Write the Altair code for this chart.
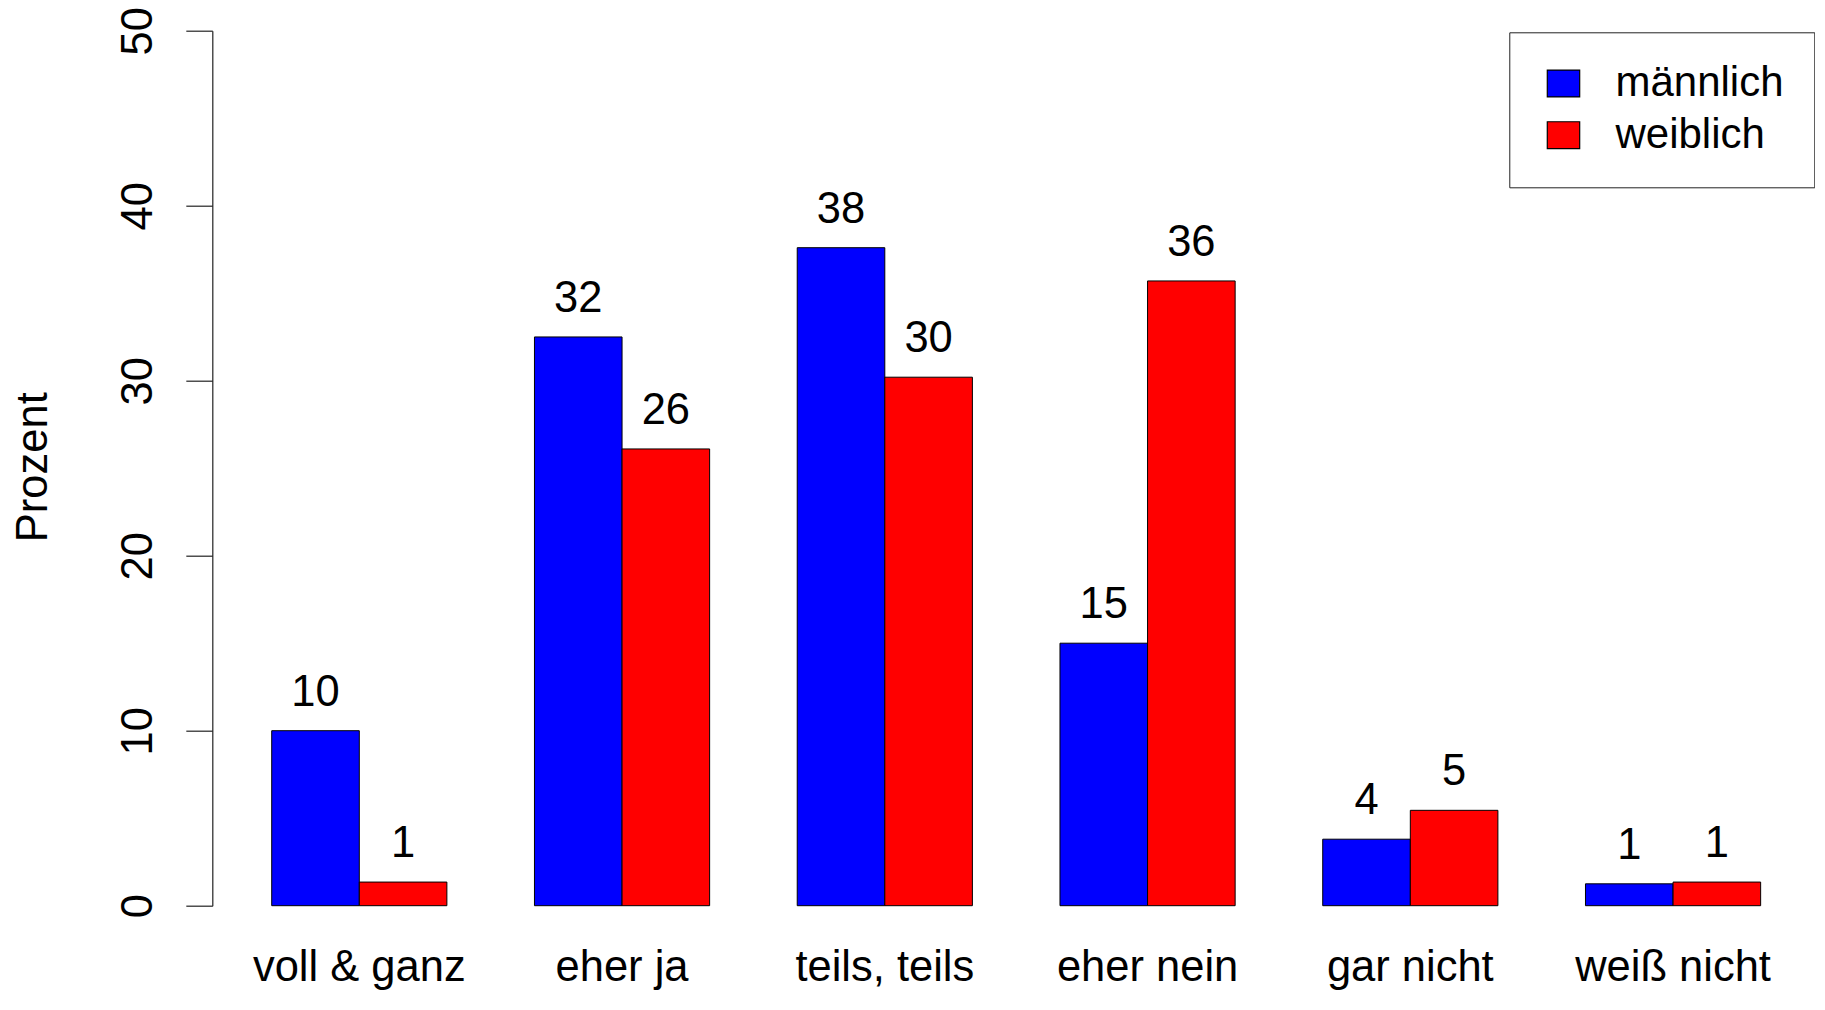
import altair as alt
import pandas as pd

categories = ["voll & ganz", "eher ja", "teils, teils", "eher nein", "gar nicht", "weiß nicht"]
groups = ["männlich", "weiblich"]
maennlich = [10.0, 32.5, 37.6, 15.0, 3.8, 1.25]
weiblich = [1.35, 26.1, 30.2, 35.7, 5.45, 1.35]
labels_m = ["10", "32", "38", "15", "4", "1"]
labels_w = ["1", "26", "30", "36", "5", "1"]
y_ticks = [0, 10, 20, 30, 40, 50]

rows = []
for i, c in enumerate(categories):
    rows.append({"cat": c, "sex": groups[0], "value": maennlich[i], "label": labels_m[i]})
    rows.append({"cat": c, "sex": groups[1], "value": weiblich[i], "label": labels_w[i]})
df = pd.DataFrame(rows)

FONT = "Liberation Sans"
FS = 43.5

base = alt.Chart(df).encode(
    x=alt.X(
        "cat:N",
        sort=categories,
        scale=alt.Scale(paddingInner=1 / 3, paddingOuter=0.2113, align=0.535),
        axis=alt.Axis(
            title=None, domain=False, ticks=False, labelAngle=0, labelLimit=0,
            labelFontSize=FS, labelFont=FONT, labelColor="black",
            labelBaseline="alphabetic", labelPadding=75,
        ),
    ),
    xOffset=alt.XOffset("sex:N", sort=groups, scale=alt.Scale(paddingInner=0, paddingOuter=0)),
    y=alt.Y(
        "value:Q",
        scale=alt.Scale(domain=[0, 50], nice=False, zero=True),
        axis=alt.Axis(
            values=y_ticks, grid=False, title="Prozent",
            tickSize=26.5, tickColor="#222222", tickWidth=1.2,
            domainColor="#222222", domainWidth=1.2,
            labelAngle=270, labelAlign="center", labelBaseline="bottom",
            labelPadding=25, labelFontSize=FS, labelFont=FONT, labelColor="black",
            labelFlush=False, labelOverlap=False,
            titleFontSize=FS, titleFont=FONT, titleFontWeight="normal", titleColor="black",
            titleAngle=270, titleAlign="center", titleBaseline="alphabetic",
            titleX=-166, titleY=436,
        ),
    ),
)

bars = base.mark_bar(stroke="black", strokeWidth=1).encode(
    color=alt.Color(
        "sex:N",
        sort=groups,
        scale=alt.Scale(domain=groups, range=["#0000ff", "#ff0000"]),
        legend=alt.Legend(
            title=None, orient="none", legendX=1297, legendY=1.6,
            strokeColor="#222222", fillColor="white", padding=30.2,
            symbolType="M-1,-0.83H1V0.83H-1Z", symbolSize=1050,
            symbolStrokeColor="black", symbolStrokeWidth=1.2, symbolOpacity=1,
            symbolOffset=3,
            labelFontSize=42, labelFont=FONT, labelColor="black", labelLimit=0,
            labelOffset=31, rowPadding=9.7,
        ),
    )
)

text = base.mark_text(dy=-38, fontSize=FS, font=FONT, baseline="middle", color="black").encode(
    text="label:N"
)

chart = (
    alt.layer(bars, text)
    .properties(
        width=1600, height=875,
        autosize=alt.AutoSizeParams(type="none"),
        padding={"left": 204.3, "top": 22.7, "right": 3, "bottom": 84},
    )
    .configure_view(stroke=None)
)

chart.save("out.html", embed_options={"renderer": "svg", "actions": False})
